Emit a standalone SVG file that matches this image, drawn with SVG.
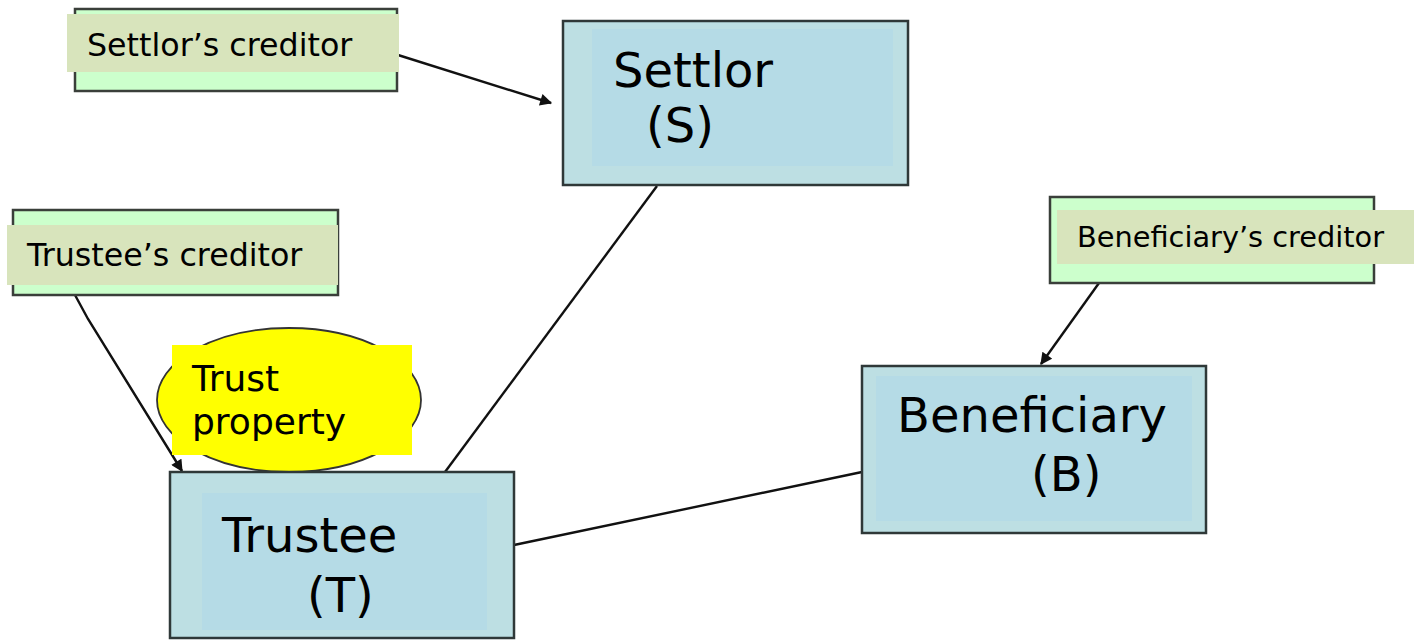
<svg xmlns="http://www.w3.org/2000/svg" width="1414" height="640" viewBox="0 0 1414 640">
  <style>
    text { font-family: "DejaVu Sans", Verdana, sans-serif; fill: #000; }
    .cred-box { fill: #ccffcc; stroke: #3a3f3a; stroke-width: 2.5; }
    .cred-label { fill: #d8e4bc; }
    .cred-text { font-size: 31.7px; }
    .party-box { fill: #bddfe3; stroke: #2f3838; stroke-width: 2.5; }
    .party-inner { fill: #b5dbe6; }
    .party-text { font-size: 48px; }
    .link { fill: none; stroke: #111; stroke-width: 2.4; }
  </style>
  <defs>
    <marker id="arrow" viewBox="0 0 10 10" refX="9" refY="5" markerWidth="5.5" markerHeight="5" orient="auto" markerUnits="strokeWidth">
      <path d="M0,0 L10,5 L0,10 z" fill="#111"/>
    </marker>
  </defs>

  <!-- connectors -->
  <g id="connectors">
    <line class="link" x1="398" y1="55" x2="551" y2="103" marker-end="url(#arrow)"/>
    <line class="link" x1="657" y1="186" x2="445" y2="472"/>
    <polyline class="link" points="75,295 88,319 182,471" marker-end="url(#arrow)"/>
    <line class="link" x1="1099" y1="283" x2="1041" y2="364" marker-end="url(#arrow)"/>
    <line class="link" x1="514" y1="545" x2="862" y2="472"/>
  </g>

  <!-- Settlor's creditor -->
  <g id="settlors-creditor">
    <rect class="cred-box" x="75" y="9" width="322" height="82"/>
    <rect class="cred-label" x="67" y="14" width="332" height="58"/>
    <text class="cred-text" x="87" y="56">Settlor’s creditor</text>
  </g>

  <!-- Settlor -->
  <g id="settlor">
    <rect class="party-box" x="563" y="21" width="345" height="164"/>
    <rect class="party-inner" x="592" y="29" width="301" height="137"/>
    <text class="party-text" x="613" y="87">Settlor</text>
    <text class="party-text" x="646" y="142" font-size="49">(S)</text>
  </g>

  <!-- Trustee's creditor -->
  <g id="trustees-creditor">
    <rect class="cred-box" x="13" y="210" width="325" height="85"/>
    <rect class="cred-label" x="7" y="225" width="331" height="60"/>
    <text class="cred-text" x="27" y="266">Trustee’s creditor</text>
  </g>

  <!-- Trust property -->
  <g id="trust-property">
    <ellipse cx="289" cy="400" rx="132" ry="72" fill="#ffff00" stroke="#333" stroke-width="1.8"/>
    <rect x="172" y="345" width="240" height="110" fill="#ffff00"/>
    <text x="192" y="391" font-size="36">Trust</text>
    <text x="192" y="434" font-size="36">property</text>
  </g>

  <!-- Trustee -->
  <g id="trustee">
    <rect class="party-box" x="170" y="472" width="344" height="166"/>
    <rect class="party-inner" x="202" y="493" width="285" height="137"/>
    <text class="party-text" x="222" y="552">Trustee</text>
    <text class="party-text" x="307" y="612">(T)</text>
  </g>

  <!-- Beneficiary's creditor -->
  <g id="beneficiarys-creditor">
    <rect class="cred-box" x="1050" y="197" width="324" height="86"/>
    <rect class="cred-label" x="1057" y="210" width="357" height="54"/>
    <text x="1077" y="247" font-size="28.8">Beneficiary’s creditor</text>
  </g>

  <!-- Beneficiary -->
  <g id="beneficiary">
    <rect class="party-box" x="862" y="366" width="344" height="167"/>
    <rect class="party-inner" x="876" y="376" width="316" height="145"/>
    <text class="party-text" x="897" y="432">Beneficiary</text>
    <text class="party-text" x="1031" y="491">(B)</text>
  </g>
</svg>
